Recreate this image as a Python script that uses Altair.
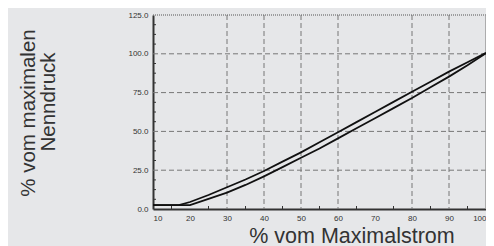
import altair as alt
import pandas as pd

# Curve data
upper_x = [10, 17, 20, 25, 30, 35, 40, 45, 50, 55, 60, 65, 70, 75, 80, 85, 90, 95, 100]
upper_y = [2.5, 2.5, 4.5, 9, 14, 19, 24.5, 30.5, 36.5, 43, 49.5, 56, 62.5, 69, 75.5, 82, 88.5, 94.6, 100.6]
lower_x = [10, 20, 25, 30, 35, 40, 45, 50, 55, 60, 65, 70, 75, 80, 85, 90, 95, 100]
lower_y = [2.5, 2.5, 6.5, 10.5, 15.5, 21, 27, 33, 39, 45.5, 52, 58.5, 65, 71.5, 78.5, 85.3, 92.6, 100.4]

x_ticks = [10, 20, 30, 40, 50, 60, 70, 80, 90, 100]
y_ticks = [0, 25, 50, 75, 100, 125]
x_grid = [30, 40, 50, 60, 80, 90]
y_grid = [25, 50, 75, 100]
x_minor = [15, 25, 35, 45, 55, 65, 75, 85, 95]
y_minor = [6.25, 12.5, 18.75, 31.25, 37.5, 43.75, 56.25, 62.5, 68.75,
           81.25, 87.5, 93.75, 106.25, 112.5, 118.75]
x_title = "% vom Maximalstrom"
y_title_1 = "% vom maximalen"
y_title_2 = "Nenndruck"

FONT = "Liberation Sans"
W, H = 333, 194

curves = pd.concat([
    pd.DataFrame({"x": upper_x, "y": upper_y, "s": "upper"}),
    pd.DataFrame({"x": lower_x, "y": lower_y, "s": "lower"}),
])

xscale = alt.Scale(domain=[10, 100], nice=False, zero=False)
yscale = alt.Scale(domain=[0, 125], nice=False)
xaxis = alt.Axis(values=x_ticks, title=None, grid=False, ticks=False,
                 labelFontSize=8, labelColor="#333", labelPadding=5,
                 domainColor="#333", domainWidth=2, labelFont=FONT)
yaxis = alt.Axis(values=y_ticks, format=".1f", title=None, grid=False, ticks=False,
                 labelFontSize=8, labelColor="#333", labelPadding=5,
                 domainColor="#333", domainWidth=2, labelFont=FONT)

X = alt.X("x:Q", scale=xscale, axis=xaxis)
Y = alt.Y("y:Q", scale=yscale, axis=yaxis)

hgrid = alt.Chart(pd.DataFrame({"y": y_grid})).mark_rule(
    color="#777", strokeWidth=1, strokeDash=[5, 3]).encode(y=Y)
vgrid = alt.Chart(pd.DataFrame({"x": x_grid})).mark_rule(
    color="#777", strokeWidth=1, strokeDash=[5, 3]).encode(x=X)
top = alt.Chart(pd.DataFrame({"y": [125]})).mark_rule(
    color="#555", strokeWidth=1, strokeDash=[1, 1]).encode(y=Y)
right = alt.Chart(pd.DataFrame({"x": [100]})).mark_rule(
    color="#999", strokeWidth=1.5).encode(x=X)
xmin = alt.Chart(pd.DataFrame({"x": x_minor})).mark_rule(
    color="#333", strokeWidth=1).encode(x=X, y=alt.value(H), y2=alt.value(H - 3))
ymin = alt.Chart(pd.DataFrame({"y": y_minor})).mark_rule(
    color="#333", strokeWidth=1).encode(y=Y, x=alt.value(0), x2=alt.value(3))

lines = alt.Chart(curves).mark_line(color="#111", strokeWidth=1.8).encode(
    x=X, y=Y, detail="s:N")

t_x = alt.Chart(pd.DataFrame({"t": [x_title]})).mark_text(
    font=FONT, fontSize=21.5, color="#333", align="center", baseline="alphabetic"
).encode(text="t:N", x=alt.value(199), y=alt.value(227.5))
t_y1 = alt.Chart(pd.DataFrame({"t": [y_title_1]})).mark_text(
    font=FONT, fontSize=20.5, color="#333", align="center", baseline="alphabetic", angle=270
).encode(text="t:N", x=alt.value(-118), y=alt.value(98))
t_y2 = alt.Chart(pd.DataFrame({"t": [y_title_2]})).mark_text(
    font=FONT, fontSize=20.5, color="#333", align="center", baseline="alphabetic", angle=270
).encode(text="t:N", x=alt.value(-98), y=alt.value(87))

chart = alt.layer(hgrid, vgrid, top, right, xmin, ymin, lines, t_x, t_y1, t_y2).properties(
    width=W, height=H,
    padding={"left": 145, "top": 7, "right": 0, "bottom": 37},
    autosize=alt.AutoSizeParams(type="none"),
    background="#e6e7e9",
).configure_view(strokeWidth=0)

chart.save("out.html", embed_options={"renderer": "svg", "actions": False})
